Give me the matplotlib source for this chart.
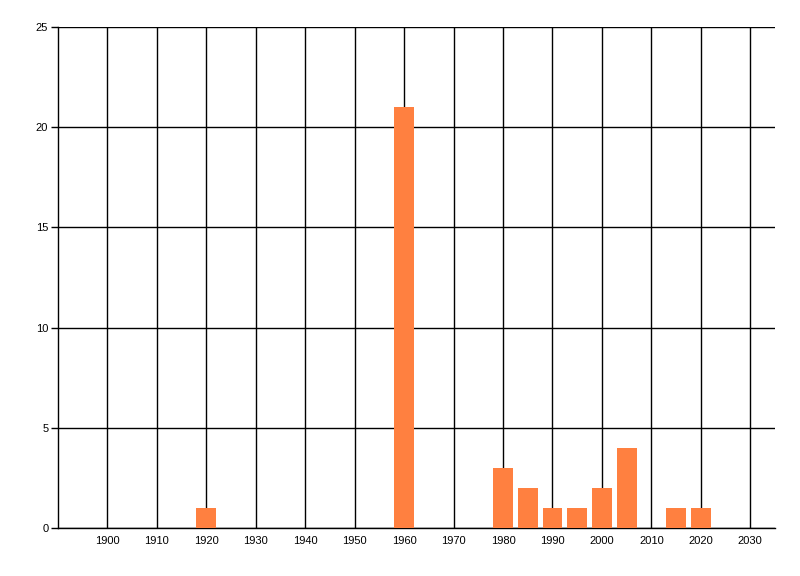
import numpy as np
import matplotlib
matplotlib.use('Agg')
import matplotlib.pyplot as plt

years = [1920, 1960, 1980, 1985, 1990, 1995, 2000, 2005, 2015, 2020]
counts = [1, 21, 3, 2, 1, 1, 2, 4, 1, 1]
xticks = list(range(1900, 2031, 10))
yticks = [0, 5, 10, 15, 20, 25]

plt.rcParams['font.family'] = ['Liberation Sans', 'DejaVu Sans']

fig = plt.figure(figsize=(8, 5.76), dpi=100)
ax = fig.add_axes([0.0725, 0.0833, 0.8962, 0.8698])

ax.set_axisbelow(True)
ax.grid(True, color='black', linewidth=1)
ax.bar(years, counts, width=4, color='#FF8040', zorder=3)

ax.set_xlim(1890, 2035)
ax.set_ylim(0, 25)
ax.set_xticks(xticks)
ax.set_yticks(yticks)
ax.tick_params(axis='x', length=0, pad=6, labelsize=8)
ax.tick_params(axis='y', length=5, width=1, pad=2, labelsize=8)

for s in ['top', 'right']:
    ax.spines[s].set_visible(False)
for s in ['left', 'bottom']:
    ax.spines[s].set_linewidth(1)

fig.savefig('out.png', dpi=100)
